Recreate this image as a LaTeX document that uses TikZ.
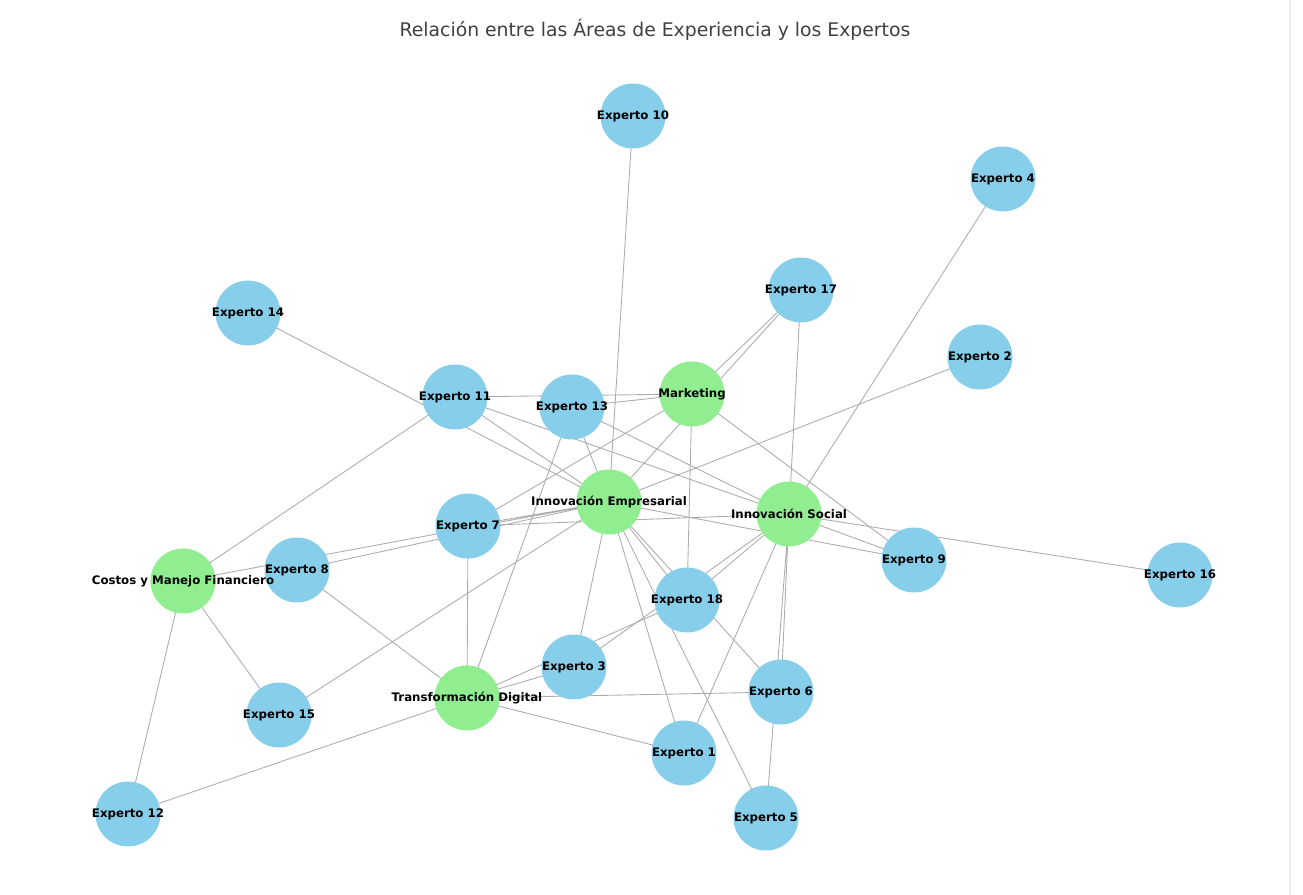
\documentclass[tikz,border=0pt]{standalone}
\usepackage{fontspec}
\setmainfont{DejaVu Sans}
\usetikzlibrary{backgrounds}
\definecolor{skyblue}{HTML}{87CEEB}
\definecolor{lightgreen}{HTML}{90EE90}

\begin{document}
\begin{tikzpicture}[x=0.02cm, y=-0.02cm,
    expert/.style = {circle, fill=skyblue, minimum size=1.3cm, inner sep=0pt},
    area/.style = {circle, fill=lightgreen, minimum size=1.3cm, inner sep=0pt},
    every label/.style = {font=\fontsize{6.7}{8}\selectfont\bfseries, inner sep=0pt},
    link/.style = {draw=gray!65, line width=0.5pt}]
    \useasboundingbox (0,0) rectangle (1303,895);
    \draw[gray!15, line width=0.6pt] (1290,0) -- (1290,895);

    \node[font=\fontsize{10.7}{12}\selectfont, text=black!75] (title) at (655,30)
        {Relación entre las Áreas de Experiencia y los Expertos};

    % experts
    \node[expert, label=center:Experto 1] (e1) at (684,753) {};
    \node[expert, label=center:Experto 2] (e2) at (980,357) {};
    \node[expert, label=center:Experto 3] (e3) at (574,667) {};
    \node[expert, label=center:Experto 4] (e4) at (1003,179) {};
    \node[expert, label=center:Experto 5] (e5) at (766,818) {};
    \node[expert, label=center:Experto 6] (e6) at (781,692) {};
    \node[expert, label=center:Experto 7] (e7) at (468,526) {};
    \node[expert, label=center:Experto 8] (e8) at (297,570) {};
    \node[expert, label=center:Experto 9] (e9) at (914,560) {};
    \node[expert, label=center:Experto 10] (e10) at (633,116) {};
    \node[expert, label=center:Experto 11] (e11) at (455,397) {};
    \node[expert, label=center:Experto 12] (e12) at (128,814) {};
    \node[expert, label=center:Experto 13] (e13) at (572,407) {};
    \node[expert, label=center:Experto 14] (e14) at (248,313) {};
    \node[expert, label=center:Experto 15] (e15) at (279,715) {};
    \node[expert, label=center:Experto 16] (e16) at (1180,575) {};
    \node[expert, label=center:Experto 17] (e17) at (801,290) {};
    \node[expert, label=center:Experto 18] (e18) at (687,600) {};

    % areas (after the experts, so their long labels stay on top)
    \node[area, label=center:Marketing] (mkt) at (692,394) {};
    \node[area, label=center:Innovación Empresarial] (ie) at (609,502) {};
    \node[area, label=center:Innovación Social] (is) at (789,514) {};
    \node[area, label=center:Costos y Manejo Financiero] (cf) at (183,581) {};
    \node[area, label=center:Transformación Digital] (td) at (467,698) {};

    \begin{scope}[on background layer]
        % links between areas and experts, center to center
        \path[link] (mkt.center) -- (e11.center) (mkt.center) -- (e13.center)
            (mkt.center) -- (e17.center) (mkt.center) -- (e7.center)
            (mkt.center) -- (e18.center) (mkt.center) -- (e9.center);
        \path[link] (ie.center) -- (e10.center) (ie.center) -- (e14.center)
            (ie.center) -- (e11.center) (ie.center) -- (e13.center)
            (ie.center) -- (e17.center) (ie.center) -- (e2.center)
            (ie.center) -- (e7.center) (ie.center) -- (e8.center)
            (ie.center) -- (e15.center) (ie.center) -- (e9.center)
            (ie.center) -- (e3.center) (ie.center) -- (e1.center)
            (ie.center) -- (e5.center) (ie.center) -- (e18.center)
            (ie.center) -- (e6.center) (ie.center) -- (cf.center);
        \path[link] (is.center) -- (e4.center) (is.center) -- (e17.center)
            (is.center) -- (e11.center) (is.center) -- (e13.center)
            (is.center) -- (e7.center) (is.center) -- (e9.center)
            (is.center) -- (e16.center) (is.center) -- (e18.center)
            (is.center) -- (e3.center) (is.center) -- (e1.center)
            (is.center) -- (e6.center) (is.center) -- (e5.center);
        \path[link] (cf.center) -- (e11.center) (cf.center) -- (e15.center)
            (cf.center) -- (e12.center);
        \path[link] (td.center) -- (e7.center) (td.center) -- (e8.center)
            (td.center) -- (e13.center) (td.center) -- (e12.center)
            (td.center) -- (e3.center) (td.center) -- (e18.center)
            (td.center) -- (e6.center) (td.center) -- (e1.center);
    \end{scope}
\end{tikzpicture}
\end{document}
